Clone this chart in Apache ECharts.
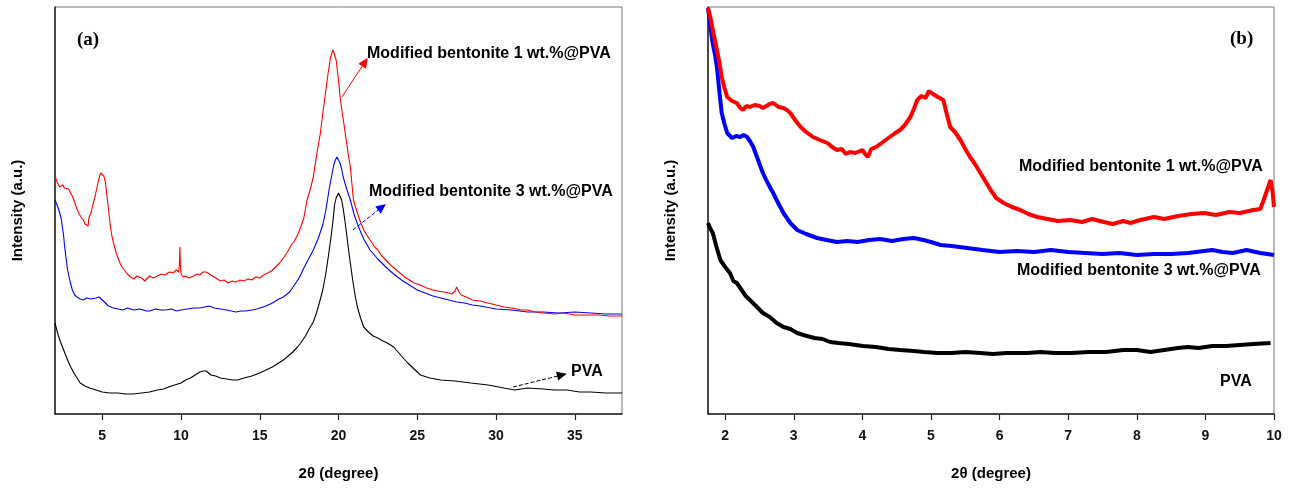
<!DOCTYPE html>
<html><head><meta charset="utf-8">
<script src="https://cdn.jsdelivr.net/npm/echarts@6/dist/echarts.min.js"></script>
<style>html,body{margin:0;padding:0;background:#fff}#c{width:1294px;height:488px}</style>
</head><body><div id="c"></div>
<script>
// Panel (a): wide-angle XRD, [2θ, intensity (a.u.)]
const ticksA = [5, 10, 15, 20, 25, 30, 35];
const redA = [[2.0,239],[2.1,233],[2.2,230],[2.3,227],[2.4,229],[2.5,229],[2.6,226],[2.7,227],[2.85,225],[2.95,224],[3.1,218],[3.2,214],[3.35,207],[3.5,201],[3.65,197],[3.8,194],[3.9,190],[4.0,191],[4.1,188],[4.15,196],[4.3,202],[4.4,209],[4.55,218],[4.7,229],[4.8,236],[4.9,241],[5.0,242],[5.1,238],[5.2,232],[5.3,218],[5.4,204],[5.5,190],[5.6,179],[5.75,169],[5.9,160],[6.0,156],[6.15,150],[6.3,146],[6.45,143],[6.6,140],[6.8,137],[7.0,135],[7.2,138],[7.5,136],[7.7,133],[8.0,138],[8.25,136],[8.5,138],[8.75,140],[9.0,139],[9.25,142],[9.5,141],[9.7,144],[9.85,142],[9.9,150],[9.93,167],[9.96,150],[10.0,140],[10.15,137],[10.3,138],[10.5,136],[10.8,138],[11.0,140],[11.2,139],[11.4,142],[11.6,142],[11.8,140],[12.0,138],[12.2,136],[12.5,133],[12.75,134],[13.0,131],[13.25,133],[13.5,132],[13.75,134],[14.0,133],[14.25,135],[14.5,134],[14.75,137],[15.0,136],[15.25,139],[15.5,141],[15.75,143],[16.0,147],[16.25,151],[16.5,156],[16.75,162],[17.0,169],[17.2,173],[17.4,179],[17.6,187],[17.8,196],[18.0,214],[18.2,224],[18.4,237],[18.6,258],[18.85,281],[19.0,300],[19.2,324],[19.35,342],[19.5,357],[19.65,364],[19.75,362],[19.85,354],[20.0,334],[20.1,317],[20.25,300],[20.4,284],[20.6,262],[20.75,247],[20.95,214],[21.1,206],[21.3,196],[21.45,190],[21.6,184],[21.8,179],[22.0,174],[22.3,167],[22.5,164],[22.7,159],[23.0,154],[23.3,149],[23.6,145],[23.9,141],[24.2,137],[24.5,134],[24.8,131],[25.2,129],[25.6,126],[26.0,124],[26.3,123],[26.7,122],[27.0,121],[27.2,120],[27.4,123],[27.5,127],[27.65,122],[27.8,119],[28.1,117],[28.5,114],[29.0,113],[29.5,111],[30.0,109],[30.5,107],[31.0,106],[31.6,104],[32.0,104],[32.5,102],[33.0,101],[33.7,100],[34.3,101],[35.0,99],[35.7,99],[36.5,99],[37.2,98],[38.0,98]];
const blueA = [[2.0,214],[2.1,210],[2.2,206],[2.3,201],[2.4,195],[2.45,189],[2.55,178],[2.6,169],[2.7,156],[2.8,144],[2.95,133],[3.1,124],[3.25,119],[3.4,117],[3.6,115],[3.8,114],[4.0,116],[4.3,115],[4.6,116],[4.8,117],[4.9,118],[5.0,114],[5.2,111],[5.4,108],[5.7,106],[6.0,105],[6.3,104],[6.6,106],[7.0,104],[7.4,105],[7.8,103],[8.0,103],[8.4,105],[8.7,104],[9.0,104],[9.4,105],[9.7,103],[10.0,104],[10.4,105],[10.8,106],[11.2,106],[11.5,107],[11.8,108],[12.1,106],[12.5,105],[12.9,104],[13.2,103],[13.5,102],[13.8,103],[14.1,103],[14.5,104],[14.8,105],[15.0,106],[15.4,108],[15.8,111],[16.1,114],[16.5,117],[16.9,122],[17.2,129],[17.5,136],[17.8,146],[18.1,155],[18.4,164],[18.7,175],[19.0,189],[19.2,204],[19.4,224],[19.55,237],[19.7,249],[19.8,254],[19.9,257],[20.0,255],[20.1,251],[20.2,245],[20.3,237],[20.5,226],[20.75,214],[21.0,199],[21.3,186],[21.6,175],[22.0,164],[22.5,155],[23.0,147],[23.5,140],[24.0,134],[24.5,129],[25.0,124],[25.5,121],[26.0,118],[26.5,116],[27.0,114],[27.5,112],[28.0,111],[28.5,109],[29.0,108],[30.0,105],[31.0,104],[32.0,102],[33.0,102],[34.0,101],[35.0,102],[36.0,101],[37.0,100],[38.0,100]];
const blackA = [[2.0,91],[2.1,85],[2.2,79],[2.35,72],[2.5,66],[2.7,58],[2.85,52],[3.0,47],[3.2,41],[3.4,36],[3.6,31],[3.9,28],[4.2,26],[4.6,24],[5.0,22],[5.5,21],[6.0,21],[6.5,20],[7.0,20],[7.5,21],[8.0,22],[8.5,24],[8.9,25],[9.2,27],[9.6,29],[10.0,31],[10.3,34],[10.6,36],[10.9,39],[11.2,42],[11.4,43],[11.6,43],[11.75,41],[11.9,39],[12.2,38],[12.5,36],[12.9,35],[13.3,34],[13.6,34],[14.0,36],[14.5,38],[15.0,41],[15.4,44],[15.8,47],[16.2,51],[16.5,54],[16.8,58],[17.1,62],[17.4,67],[17.6,71],[17.9,78],[18.1,84],[18.4,92],[18.6,101],[18.8,112],[19.0,124],[19.2,141],[19.35,157],[19.5,174],[19.65,193],[19.75,209],[19.85,216],[20.0,221],[20.1,219],[20.2,214],[20.3,205],[20.4,194],[20.5,182],[20.6,169],[20.75,151],[20.9,134],[21.05,119],[21.2,107],[21.4,96],[21.6,87],[21.9,82],[22.2,78],[22.5,76],[22.7,74],[23.1,71],[23.5,67],[24.0,58],[24.4,51],[24.8,45],[25.2,39],[25.8,36],[26.5,34],[27.4,33],[28.4,31],[29.5,29],[30.5,26],[31.2,24],[32.0,26],[33.0,25],[33.7,24],[34.5,24],[35.3,22],[36.0,22],[37.0,21],[38.0,21]];

// Panel (b): small-angle XRD
const ticksB = [2, 3, 4, 5, 6, 7, 8, 9, 10];
const redB = [[1.75,406],[1.79,395],[1.82,384],[1.85,374],[1.88,364],[1.92,350],[1.95,337],[1.99,326],[2.03,317],[2.1,313],[2.17,311],[2.22,306],[2.26,304],[2.31,308],[2.36,307],[2.43,309],[2.5,308],[2.55,306],[2.6,308],[2.65,310],[2.7,311],[2.78,307],[2.85,306],[2.9,304],[2.95,301],[3.02,294],[3.1,287],[3.18,282],[3.28,277],[3.38,274],[3.49,271],[3.56,267],[3.63,264],[3.7,265],[3.76,260],[3.82,262],[3.9,261],[4.0,264],[4.04,260],[4.08,257],[4.13,265],[4.2,267],[4.3,272],[4.4,277],[4.48,281],[4.55,284],[4.62,289],[4.7,297],[4.75,305],[4.8,314],[4.86,318],[4.92,316],[4.97,323],[5.03,320],[5.1,317],[5.18,314],[5.23,300],[5.28,287],[5.35,282],[5.43,274],[5.5,265],[5.57,257],[5.65,249],[5.72,241],[5.8,232],[5.87,224],[5.95,216],[6.06,211],[6.18,207],[6.3,204],[6.42,200],[6.55,197],[6.7,195],[6.85,193],[7.03,194],[7.2,192],[7.35,195],[7.52,192],[7.65,190],[7.8,193],[7.91,191],[8.05,194],[8.25,197],[8.4,195],[8.6,198],[8.8,200],[8.98,201],[9.15,199],[9.35,202],[9.5,201],[9.7,204],[9.8,205],[9.85,214],[9.9,224],[9.95,234],[9.98,222],[10.0,207]];
const blueB = [[1.75,406],[1.78,390],[1.81,374],[1.85,360],[1.88,347],[1.92,320],[1.95,301],[1.99,290],[2.03,281],[2.1,276],[2.16,278],[2.22,277],[2.27,279],[2.32,277],[2.37,272],[2.41,267],[2.48,254],[2.55,241],[2.62,231],[2.7,221],[2.78,210],[2.85,201],[2.95,191],[3.05,184],[3.18,180],[3.34,176],[3.48,174],[3.63,172],[3.78,173],[3.93,172],[4.1,174],[4.26,175],[4.43,173],[4.6,175],[4.75,176],[4.89,174],[5.0,172],[5.14,169],[5.3,168],[5.53,166],[5.75,164],[6.0,162],[6.25,163],[6.5,162],[6.75,164],[7.0,162],[7.25,161],[7.5,160],[7.75,161],[8.0,159],[8.25,160],[8.5,160],[8.75,161],[9.1,164],[9.25,162],[9.4,161],[9.6,164],[9.8,161],[10.0,159]];
const blackB = [[1.75,191],[1.78,186],[1.82,181],[1.87,168],[1.93,154],[2.0,147],[2.07,141],[2.12,133],[2.17,131],[2.25,123],[2.3,118],[2.36,114],[2.45,108],[2.55,101],[2.65,97],[2.75,91],[2.85,87],[2.95,85],[3.05,81],[3.14,79],[3.3,76],[3.42,75],[3.53,72],[3.65,71],[3.8,70],[4.01,68],[4.2,67],[4.38,65],[4.55,64],[4.75,63],[4.9,62],[5.09,61],[5.3,61],[5.5,62],[5.72,61],[5.9,60],[6.1,61],[6.4,61],[6.6,62],[6.8,61],[7.05,61],[7.3,62],[7.55,62],[7.8,64],[8.0,64],[8.2,62],[8.4,64],[8.6,66],[8.74,67],[8.9,66],[9.1,68],[9.3,68],[9.5,69],[9.7,70],[9.95,71]];

const labelRed = 'Modified bentonite 1 wt.%@PVA';
const labelBlue = 'Modified bentonite 3 wt.%@PVA';
const labelBlack = 'PVA';

const RED = '#ff0000', BLUE = '#0000ff', BLACK = '#000000';
const FONT = '"Liberation Sans", Arial, sans-serif';
const chart = echarts.init(document.getElementById('c'), null, {renderer: 'canvas'});

function xAxis(idx, min, max, ticks) {
  return {
    type: 'value', gridIndex: idx, min: min, max: max,
    name: '2θ (degree)', nameLocation: 'middle', nameGap: 52,
    nameTextStyle: {fontFamily: FONT, fontWeight: 'bold', fontSize: 15, color: '#000'},
    axisLine: {show: true, lineStyle: {color: '#222', width: 1.5}},
    axisTick: {show: true, inside: false, length: 6, customValues: ticks, lineStyle: {color: '#222', width: 1.2}},
    axisLabel: {show: true, customValues: ticks, margin: 15, fontFamily: FONT, fontWeight: 'bold', fontSize: 14, color: '#111'},
    splitLine: {show: false}
  };
}
function yAxis(idx) {
  return {
    type: 'value', gridIndex: idx, min: 0, max: 407,
    name: 'Intensity (a.u.)', nameLocation: 'middle', nameGap: 30,
    nameTextStyle: {fontFamily: FONT, fontWeight: 'bold', fontSize: 15, color: '#000'},
    axisLine: {show: true, lineStyle: {color: '#222', width: 1.5}},
    axisTick: {show: false}, axisLabel: {show: false}, splitLine: {show: false}
  };
}
function arrow(color, dashed, from, to) {
  return {
    silent: true, animation: false,
    symbol: ['none', 'triangle'], symbolSize: [9, 10],
    lineStyle: {color: color, width: 1, type: dashed ? 'dashed' : 'solid'},
    itemStyle: {color: color},
    label: {show: false},
    data: [[{coord: from}, {coord: to}]]
  };
}
function line(name, data, color, w, xi, yi, ml) {
  const s = {name: name, type: 'line', data: data, xAxisIndex: xi, yAxisIndex: yi,
    showSymbol: false, symbol: 'none', smooth: false, lineStyle: {color: color, width: w},
    itemStyle: {color: color}, animation: false, z: 3};
  if (ml) s.markLine = ml;
  return s;
}
const txt = (x, y, t, size, fam, align) => ({type: 'text', left: x, top: y, z: 10,
  style: {text: t, font: 'bold ' + size + 'px ' + fam, fill: '#000', textAlign: align || 'left'}});

chart.setOption({
  animation: false,
  backgroundColor: '#fff',
  grid: [
    {left: 55, top: 7, width: 567, height: 407, show: true, borderColor: '#777', borderWidth: 1},
    {left: 708, top: 7, width: 566, height: 407, show: true, borderColor: '#777', borderWidth: 1}
  ],
  xAxis: [xAxis(0, 2, 38, ticksA), xAxis(1, 1.75, 10, ticksB)],
  yAxis: [yAxis(0), yAxis(1)],
  series: [
    line(labelBlack, blackA, BLACK, 1.1, 0, 0, arrow(BLACK, true, [31.08, 27], [34.19, 39])),
    line(labelBlue, blueA, BLUE, 1.1, 0, 0, arrow(BLUE, true, [20.92, 184], [22.76, 207])),
    line(labelRed, redA, RED, 1.1, 0, 0, arrow(RED, false, [20.22, 317], [21.68, 352])),
    line(labelBlack, blackB, BLACK, 4, 1, 1),
    line(labelBlue, blueB, BLUE, 4, 1, 1),
    line(labelRed, redB, RED, 4, 1, 1)
  ],
  graphic: [
    txt(77, 31, '(a)', 19, '"Liberation Serif", "Times New Roman", serif'),
    txt(1230, 30, '(b)', 19, '"Liberation Serif", "Times New Roman", serif'),
    txt(367, 46, labelRed, 16, FONT),
    txt(369, 184, labelBlue, 16, FONT),
    txt(571, 364, labelBlack, 16, FONT),
    txt(1019, 159, labelRed, 16, FONT),
    txt(1017, 263, labelBlue, 16, FONT),
    txt(1220, 374, labelBlack, 16, FONT)
  ]
});
</script></body></html>
